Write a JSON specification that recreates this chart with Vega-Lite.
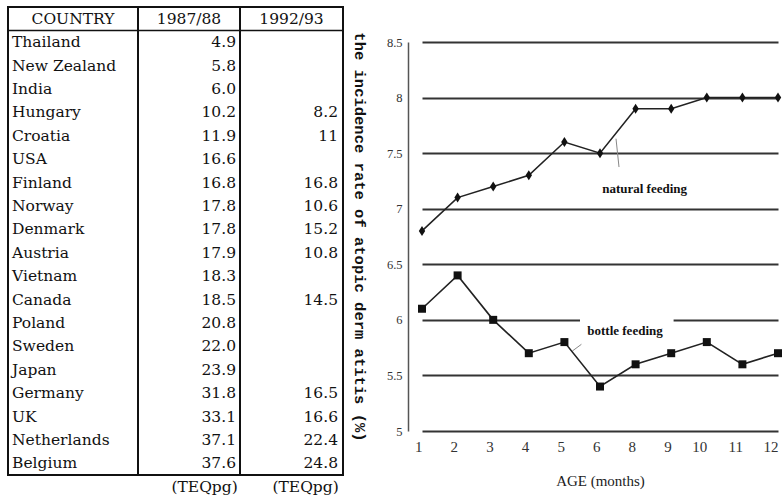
{
  "$schema": "https://vega.github.io/schema/vega-lite/v6.json",
  "padding": {"left": 6, "top": 6, "right": 0, "bottom": 0},
  "background": "white",
  "config": {"view": {"stroke": null}, "font": "DejaVu Serif", "concat": {"spacing": 0}},
  "datasets": {
    "table": [
      {"country": "Thailand", "v1": 4.9},
      {"country": "New Zealand", "v1": 5.8},
      {"country": "India", "v1": 6.0},
      {"country": "Hungary", "v1": 10.2, "v2": 8.2},
      {"country": "Croatia", "v1": 11.9, "v2": 11},
      {"country": "USA", "v1": 16.6},
      {"country": "Finland", "v1": 16.8, "v2": 16.8},
      {"country": "Norway", "v1": 17.8, "v2": 10.6},
      {"country": "Denmark", "v1": 17.8, "v2": 15.2},
      {"country": "Austria", "v1": 17.9, "v2": 10.8},
      {"country": "Vietnam", "v1": 18.3},
      {"country": "Canada", "v1": 18.5, "v2": 14.5},
      {"country": "Poland", "v1": 20.8},
      {"country": "Sweden", "v1": 22.0},
      {"country": "Japan", "v1": 23.9},
      {"country": "Germany", "v1": 31.8, "v2": 16.5},
      {"country": "UK", "v1": 33.1, "v2": 16.6},
      {"country": "Netherlands", "v1": 37.1, "v2": 22.4},
      {"country": "Belgium", "v1": 37.6, "v2": 24.8}
    ],
    "feeding": [
      {"month": "1", "type": "natural", "rate": 6.8},
      {"month": "2", "type": "natural", "rate": 7.1},
      {"month": "3", "type": "natural", "rate": 7.2},
      {"month": "4", "type": "natural", "rate": 7.3},
      {"month": "5", "type": "natural", "rate": 7.6},
      {"month": "6", "type": "natural", "rate": 7.5},
      {"month": "8", "type": "natural", "rate": 7.9},
      {"month": "9", "type": "natural", "rate": 7.9},
      {"month": "10", "type": "natural", "rate": 8.0},
      {"month": "11", "type": "natural", "rate": 8.0},
      {"month": "12", "type": "natural", "rate": 8.0},
      {"month": "1", "type": "bottle", "rate": 6.1},
      {"month": "2", "type": "bottle", "rate": 6.4},
      {"month": "3", "type": "bottle", "rate": 6.0},
      {"month": "4", "type": "bottle", "rate": 5.7},
      {"month": "5", "type": "bottle", "rate": 5.8},
      {"month": "6", "type": "bottle", "rate": 5.4},
      {"month": "8", "type": "bottle", "rate": 5.6},
      {"month": "9", "type": "bottle", "rate": 5.7},
      {"month": "10", "type": "bottle", "rate": 5.8},
      {"month": "11", "type": "bottle", "rate": 5.6},
      {"month": "12", "type": "bottle", "rate": 5.7}
    ]
  },
  "spacing": 5,
  "hconcat": [
    {
      "spacing": 0,
      "bounds": "flush",
      "hconcat": [
        {
          "width": 130, "height": 468,
          "view": {"stroke": "#111", "strokeWidth": 2},
          "layer": [
            {
              "data": {"values": [{"h": "COUNTRY"}]},
              "mark": {"type": "text", "fontSize": 15.5, "font": "DejaVu Serif", "baseline": "middle", "align": "center", "color": "#111"},
              "encoding": {
                "x": {"datum": 0.5, "type": "quantitative", "scale": {"domain": [0, 1]}, "axis": null},
                "y": {"datum": "HEADER", "type": "nominal", "scale": {"domain": ["HEADER","Thailand","New Zealand","India","Hungary","Croatia","USA","Finland","Norway","Denmark","Austria","Vietnam","Canada","Poland","Sweden","Japan","Germany","UK","Netherlands","Belgium"], "paddingInner": 0, "paddingOuter": 0}, "axis": null},
                "text": {"field": "h"}
              }
            },
            {
              "data": {"values": [{}]},
              "mark": {"type": "rule", "color": "#111", "strokeWidth": 1.5},
              "encoding": {
                "y": {"datum": "Thailand", "type": "nominal", "bandPosition": 0, "axis": null}
              }
            },
            {
              "data": {"name": "table"},
              "mark": {"type": "text", "fontSize": 15.5, "font": "DejaVu Serif", "baseline": "middle", "align": "left", "dx": 4, "color": "#111"},
              "encoding": {
                "x": {"datum": 0, "type": "quantitative", "scale": {"domain": [0, 1]}, "axis": null},
                "y": {"field": "country", "type": "nominal", "axis": null},
                "text": {"field": "country"}
              }
            }
          ]
        },
        {
          "width": 102, "height": 468,
          "view": {"stroke": "#111", "strokeWidth": 2},
          "title": {"text": "(TEQpg)", "orient": "bottom", "anchor": "end", "offset": 5, "dx": -3, "fontSize": 15.5, "font": "DejaVu Serif", "fontWeight": "normal", "color": "#111"},
          "layer": [
            {
              "data": {"values": [{"h": "1987/88"}]},
              "mark": {"type": "text", "fontSize": 15.5, "font": "DejaVu Serif", "baseline": "middle", "align": "center", "color": "#111"},
              "encoding": {
                "x": {"datum": 0.5, "type": "quantitative", "scale": {"domain": [0, 1]}, "axis": null},
                "y": {"datum": "HEADER", "type": "nominal", "scale": {"domain": ["HEADER","Thailand","New Zealand","India","Hungary","Croatia","USA","Finland","Norway","Denmark","Austria","Vietnam","Canada","Poland","Sweden","Japan","Germany","UK","Netherlands","Belgium"], "paddingInner": 0, "paddingOuter": 0}, "axis": null},
                "text": {"field": "h"}
              }
            },
            {
              "data": {"values": [{}]},
              "mark": {"type": "rule", "color": "#111", "strokeWidth": 1.5},
              "encoding": {
                "y": {"datum": "Thailand", "type": "nominal", "bandPosition": 0, "axis": null}
              }
            },
            {
              "data": {"name": "table"},
              "mark": {"type": "text", "fontSize": 15.5, "font": "DejaVu Serif", "baseline": "middle", "align": "right", "dx": -4, "color": "#111"},
              "encoding": {
                "x": {"datum": 1, "type": "quantitative", "scale": {"domain": [0, 1]}, "axis": null},
                "y": {"field": "country", "type": "nominal", "axis": null},
                "text": {"field": "v1", "type": "quantitative", "format": ".1f"}
              }
            }
          ]
        },
        {
          "width": 103, "height": 468,
          "view": {"stroke": "#111", "strokeWidth": 2},
          "title": {"text": "(TEQpg)", "orient": "bottom", "anchor": "end", "offset": 5, "dx": -5, "fontSize": 15.5, "font": "DejaVu Serif", "fontWeight": "normal", "color": "#111"},
          "layer": [
            {
              "data": {"values": [{"h": "1992/93"}]},
              "mark": {"type": "text", "fontSize": 15.5, "font": "DejaVu Serif", "baseline": "middle", "align": "center", "color": "#111"},
              "encoding": {
                "x": {"datum": 0.5, "type": "quantitative", "scale": {"domain": [0, 1]}, "axis": null},
                "y": {"datum": "HEADER", "type": "nominal", "scale": {"domain": ["HEADER","Thailand","New Zealand","India","Hungary","Croatia","USA","Finland","Norway","Denmark","Austria","Vietnam","Canada","Poland","Sweden","Japan","Germany","UK","Netherlands","Belgium"], "paddingInner": 0, "paddingOuter": 0}, "axis": null},
                "text": {"field": "h"}
              }
            },
            {
              "data": {"values": [{}]},
              "mark": {"type": "rule", "color": "#111", "strokeWidth": 1.5},
              "encoding": {
                "y": {"datum": "Thailand", "type": "nominal", "bandPosition": 0, "axis": null}
              }
            },
            {
              "data": {"name": "table"},
              "transform": [{"filter": "isValid(datum.v2)"}],
              "mark": {"type": "text", "fontSize": 15.5, "font": "DejaVu Serif", "baseline": "middle", "align": "right", "dx": -5, "color": "#111"},
              "encoding": {
                "x": {"datum": 1, "type": "quantitative", "scale": {"domain": [0, 1]}, "axis": null},
                "y": {"field": "country", "type": "nominal", "axis": null},
                "text": {"field": "v2", "type": "quantitative"}
              }
            }
          ]
        }
      ]
    },
    {
      "width": 378, "height": 424,
      "layer": [
        {
          "data": {"values": [{}]},
          "mark": {"type": "rect", "color": "white", "xOffset": -5, "x2Offset": 0},
          "encoding": {
            "x": {"datum": "6", "type": "ordinal", "scale": {"type": "point", "domain": ["1","2","3","4","5","6","8","9","10","11","12"], "range": [14, 370], "padding": 0}},
            "x2": {"datum": "10"},
            "y": {"datum": 7.375, "type": "quantitative", "scale": {"domain": [5, 8.5], "nice": false, "zero": false, "range": [424, 35]}},
            "y2": {"datum": 7.06}
          }
        },
        {
          "data": {"values": [{}]},
          "mark": {"type": "rect", "color": "white", "xOffset": -20, "x2Offset": 38},
          "encoding": {
            "x": {"datum": "6", "type": "ordinal"},
            "x2": {"datum": "8"},
            "y": {"datum": 6.08, "type": "quantitative"},
            "y2": {"datum": 5.78}
          }
        },
        {
          "data": {"values": [{}]},
          "mark": {"type": "rule", "color": "#888", "strokeWidth": 1, "xOffset": 16, "x2Offset": 19},
          "encoding": {
            "x": {"datum": "6", "type": "ordinal"},
            "x2": {"datum": "6"},
            "y": {"datum": 7.63, "type": "quantitative"},
            "y2": {"datum": 7.375}
          }
        },
        {
          "data": {"values": [{}]},
          "mark": {"type": "rule", "color": "#888", "strokeWidth": 1, "xOffset": 8, "x2Offset": 17},
          "encoding": {
            "x": {"datum": "5", "type": "ordinal"},
            "x2": {"datum": "5"},
            "y": {"datum": 5.72, "type": "quantitative"},
            "y2": {"datum": 5.78}
          }
        },
        {
          "data": {"name": "feeding"},
          "mark": {"type": "line", "color": "#222", "strokeWidth": 1.6},
          "encoding": {
            "x": {
              "field": "month", "type": "ordinal", "sort": null,
              "axis": {"title": "AGE (months)", "titleFont": "Liberation Serif", "titleFontSize": 15, "titleFontWeight": "normal", "titleColor": "#222", "labelFont": "Liberation Serif", "labelFontSize": 15, "labelAngle": 0, "labelColor": "#333", "ticks": false, "domain": false, "grid": false, "labelPadding": 15, "titlePadding": 19}
            },
            "y": {
              "field": "rate", "type": "quantitative",
              "axis": {"title": "the incidence rate of atopic derm atitis (%)", "titleFont": "Liberation Mono", "titleFontWeight": "bold", "titleFontSize": 15.5, "titleAngle": 90, "titleBaseline": "top", "titleColor": "#111", "values": [5, 5.5, 6, 6.5, 7, 7.5, 8, 8.5], "format": "~g", "labelFont": "Liberation Sans Narrow", "labelFontSize": 12.5, "labelColor": "#333", "ticks": false, "labelPadding": 6, "grid": true, "gridColor": "#333", "gridWidth": 1.8, "domain": true, "domainColor": "#555", "domainWidth": 1.5, "titlePadding": 20}
            },
            "detail": {"field": "type"}
          }
        },
        {
          "data": {"name": "feeding"},
          "mark": {"type": "point", "filled": true, "color": "#111", "opacity": 1, "size": 64},
          "encoding": {
            "x": {"field": "month", "type": "ordinal", "sort": null},
            "y": {"field": "rate", "type": "quantitative"},
            "shape": {"field": "type", "type": "nominal", "scale": {"domain": ["natural", "bottle"], "range": ["M0,-1.25L0.8,0L0,1.25L-0.8,0Z", "square"]}, "legend": null}
          }
        },
        {
          "data": {"values": [{"label": "natural feeding"}]},
          "mark": {"type": "text", "font": "Liberation Serif", "fontWeight": "bold", "fontSize": 13, "baseline": "middle", "align": "center", "dx": 9, "color": "#111"},
          "encoding": {
            "x": {"datum": "8", "type": "ordinal"},
            "y": {"datum": 7.177, "type": "quantitative"},
            "text": {"field": "label"}
          }
        },
        {
          "data": {"values": [{"label": "bottle feeding"}]},
          "mark": {"type": "text", "font": "Liberation Serif", "fontWeight": "bold", "fontSize": 13, "baseline": "middle", "align": "center", "dx": 25, "color": "#111"},
          "encoding": {
            "x": {"datum": "6", "type": "ordinal"},
            "y": {"datum": 5.9, "type": "quantitative"},
            "text": {"field": "label"}
          }
        }
      ]
    }
  ]
}
